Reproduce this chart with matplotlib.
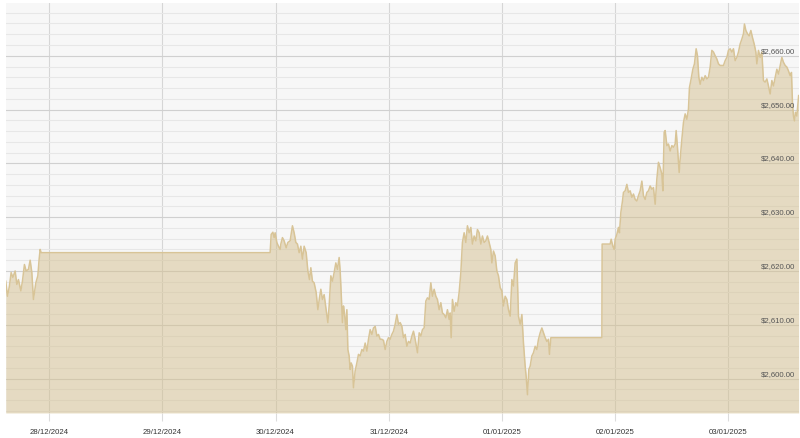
import pandas as pd
import numpy as np
import matplotlib
matplotlib.use("Agg")
import matplotlib.pyplot as plt
import matplotlib.dates as mdates
from matplotlib.ticker import MultipleLocator

# gold spot price, hours counted from 28/12/2024 00:00
hours = [-9.2, -8.84, -8.42, -8.06, -7.70, -7.21, -6.85, -6.51, -6.00, -5.66,
         -5.24, -4.88, -4.39, -4.03, -3.67, -3.33, -2.82, -2.40, -2.12, -1.91,
         -1.70, 46.85,
         47.07, 47.43, 47.70, 47.91, 48.27, 48.61, 48.97, 49.12, 49.46, 49.82,
         50.25, 50.61, 51.09, 51.58, 51.94, 52.30, 52.64, 53.00, 53.36, 53.70,
         54.06, 54.49, 54.85, 55.19, 55.48, 55.82, 56.18, 56.61, 56.97, 57.31,
         57.60, 57.94, 58.30, 58.66, 59.09, 59.36, 59.72, 60.06, 60.42, 60.78,
         61.12, 61.48, 61.70, 61.91, 62.18, 62.40, 62.61, 62.90, 63.12, 63.33,
         63.60, 63.82, 64.03, 64.30, 64.52, 64.87, 65.24, 65.58, 65.94, 66.30,
         66.64, 67.00, 67.36, 67.70, 68.06, 68.42, 68.76, 69.12, 69.48, 69.82,
         70.18, 70.54, 70.88, 71.24, 71.60, 71.94, 72.30, 72.66, 73.00, 73.36,
         73.72, 74.06, 74.42, 74.78, 75.12, 75.48, 75.84, 76.18, 76.54, 76.90,
         77.24, 77.60, 78.09, 78.45, 78.81, 79.15, 79.50, 79.86, 80.20, 80.56,
         80.92, 81.26, 81.62, 81.98, 82.32, 82.68, 83.04, 83.38, 83.74, 84.10,
         84.44, 84.80, 85.02, 85.23, 85.50, 85.86, 86.22, 86.56, 86.92, 87.28,
         87.62, 87.98, 88.34, 88.68, 89.04, 89.40, 89.74, 90.10, 90.46, 90.80,
         91.16, 91.52, 91.86, 92.22, 92.58, 92.92, 93.28, 93.64, 93.86, 94.20,
         94.56, 94.92, 95.26, 95.62, 95.98, 96.32, 96.68, 97.04, 97.38, 97.74,
         98.10, 98.44, 98.80, 99.16, 99.50, 99.86, 100.22, 100.56, 100.92, 101.13,
         101.41, 101.70, 101.98, 102.34, 102.68, 103.04, 103.40, 103.74, 104.10, 104.46,
         104.80, 105.16, 105.52, 105.86, 106.07, 106.37, 117.18,
         117.24, 118.94, 119.15, 119.51, 119.79, 120.00, 120.36, 120.70, 120.91, 121.21,
         121.55, 121.76, 122.12, 122.48, 122.82, 123.18, 123.54, 123.88, 124.24, 124.60,
         124.94, 125.30, 125.66, 126.00, 126.36, 126.72, 127.06, 127.42, 127.78, 128.12,
         128.48, 128.84, 129.18, 129.54, 129.90, 130.11, 130.39, 130.60, 130.96, 131.30,
         131.66, 132.02, 132.36, 132.72, 132.93, 133.21, 133.57, 133.78, 134.14, 134.48,
         134.84, 135.20, 135.54, 135.75, 136.11, 136.47, 136.81, 137.17, 137.45, 137.74,
         138.02, 138.38, 138.72, 139.08, 139.44, 139.78, 140.14, 140.50, 140.84, 141.20,
         141.56, 141.90, 142.26, 142.62, 142.96, 143.32, 143.68, 144.02, 144.38, 144.74,
         145.08, 145.44, 145.80, 146.14, 146.50, 146.86, 147.20, 147.41, 147.71, 148.05,
         148.41, 148.77, 149.11, 149.47, 149.83, 150.04, 150.38, 150.74, 151.10, 151.44,
         151.80, 152.16, 152.50, 152.86, 153.22, 153.56, 153.92, 154.28, 154.62, 154.98,
         155.34, 155.68, 156.04, 156.40, 156.74, 157.10, 157.38, 157.59, 157.80, 158.01,
         158.22, 158.52, 158.90]

price = [2618.1, 2615.3, 2617.2, 2619.7, 2618.8, 2620.0, 2617.5, 2618.4, 2616.3, 2618.1,
         2621.2, 2620.0, 2620.3, 2622.0, 2619.7, 2614.7, 2617.8, 2619.1, 2622.2, 2624.0,
         2623.4, 2623.4,
         2626.8, 2627.2, 2626.2, 2627.1, 2625.3, 2624.6, 2624.0, 2625.0, 2626.2, 2625.6,
         2624.3, 2625.3, 2625.6, 2628.4, 2627.1, 2625.3, 2625.0, 2623.4, 2624.6, 2622.2,
         2624.6, 2623.4, 2620.0, 2618.4, 2620.6, 2618.1, 2617.8, 2616.0, 2612.8, 2615.0,
         2616.6, 2614.7, 2615.6, 2613.2, 2610.4, 2613.5, 2619.1, 2618.1, 2619.7, 2621.5,
         2620.3, 2622.5, 2620.0, 2616.0, 2610.4, 2613.5, 2612.2, 2609.1, 2612.8, 2605.4,
         2604.2, 2601.7, 2602.9, 2602.3, 2598.3, 2601.4, 2602.9, 2604.5, 2604.2, 2605.4,
         2605.1, 2606.6, 2605.1, 2607.3, 2609.1, 2608.2, 2609.4, 2609.7, 2607.9, 2608.2,
         2607.3, 2607.3, 2607.1, 2605.4, 2606.9, 2607.6, 2607.3, 2608.2, 2608.8, 2610.1,
         2611.9, 2610.1, 2610.4, 2609.7, 2607.6, 2608.2, 2606.0, 2606.9, 2606.6, 2607.9,
         2608.8, 2607.3, 2604.8, 2608.5, 2607.9, 2609.1, 2609.4, 2614.4, 2615.0, 2614.7,
         2617.8, 2615.3, 2616.6, 2615.3, 2614.7, 2612.8, 2614.1, 2612.2, 2611.9, 2611.3,
         2612.8, 2611.0, 2612.2, 2607.6, 2614.7, 2612.5, 2614.1, 2613.5, 2616.0, 2619.7,
         2625.3, 2627.1, 2625.3, 2628.4, 2627.1, 2628.1, 2625.0, 2626.5, 2625.6, 2627.7,
         2627.1, 2625.0, 2626.5, 2625.3, 2625.6, 2626.5, 2625.3, 2624.0, 2621.5, 2623.7,
         2622.8, 2620.0, 2619.1, 2616.9, 2616.3, 2613.5, 2615.3, 2614.7, 2612.8, 2611.6,
         2618.4, 2617.2, 2621.5, 2622.2, 2611.6, 2610.1, 2611.9, 2606.6, 2602.3, 2600.4,
         2597.0, 2601.7, 2602.3, 2604.2, 2604.8, 2606.0, 2605.4, 2607.3, 2608.5, 2609.4,
         2608.5, 2607.6, 2606.9, 2607.3, 2604.5, 2607.6, 2607.6,
         2625.0, 2625.0, 2625.9, 2624.6, 2624.0, 2625.9, 2626.8, 2628.1, 2627.1, 2630.9,
         2633.0, 2634.6, 2634.9, 2636.1, 2634.6, 2634.9, 2633.7, 2634.3, 2633.3, 2633.0,
         2634.0, 2634.9, 2636.7, 2634.0, 2633.3, 2634.6, 2634.9, 2635.8, 2635.2, 2635.5,
         2632.4, 2637.1, 2640.2, 2639.2, 2638.0, 2634.9, 2645.8, 2646.1, 2643.3, 2643.6,
         2642.3, 2643.3, 2643.0, 2643.6, 2646.1, 2643.0, 2638.3, 2640.8, 2644.5, 2647.6,
         2649.2, 2648.2, 2650.1, 2654.1, 2655.7, 2657.5, 2658.5, 2661.3, 2660.0, 2656.0,
         2654.7, 2656.0, 2655.4, 2656.3, 2655.7, 2656.0, 2657.9, 2661.0, 2660.7, 2660.0,
         2659.4, 2658.5, 2658.2, 2658.2, 2658.2, 2659.1, 2659.7, 2661.0, 2661.3, 2660.7,
         2661.3, 2659.1, 2659.7, 2660.7, 2662.2, 2663.1, 2664.1, 2665.9, 2664.7, 2664.1,
         2663.7, 2664.7, 2663.4, 2662.2, 2660.7, 2658.5, 2661.0, 2659.7, 2660.7, 2655.4,
         2655.1, 2655.7, 2654.4, 2652.9, 2655.4, 2654.4, 2656.0, 2657.5, 2656.6, 2658.2,
         2659.7, 2658.8, 2658.2, 2657.9, 2657.2, 2656.3, 2656.9, 2651.3, 2648.8, 2647.9,
         2649.5, 2648.8, 2652.6]

day_ticks = pd.date_range("2024-12-28", "2025-01-03", freq="D")
y_major = [2600, 2610, 2620, 2630, 2640, 2650, 2660]

base = pd.Timestamp("2024-12-28")
times = base + pd.to_timedelta(hours, unit="h")
y_bottom, y_top = 2593.6, 2669.9

fig = plt.figure(figsize=(8, 4.39), dpi=100)
ax = fig.add_axes([0.0069, 0.057, 0.992, 0.935])
ax.set_facecolor("#f7f7f7")
for s in ax.spines.values():
    s.set_visible(False)

ax.set_xlim(base + pd.Timedelta(hours=-9.25), base + pd.Timedelta(hours=159.0))
ax.set_ylim(y_bottom, y_top)

ax.set_xticks(day_ticks)
ax.xaxis.set_major_formatter(mdates.DateFormatter("%d/%m/%Y"))
ax.set_yticks(y_major)
ax.yaxis.set_minor_locator(MultipleLocator(2))
ax.set_yticklabels([])
ax.tick_params(axis="y", which="both", length=0)
ax.tick_params(axis="x", length=6, width=0.8, color="#dcdcdc", pad=5,
               labelsize=5.6, labelcolor="#333333")
for lab in ax.get_xticklabels():
    lab.set_fontfamily("Liberation Sans")

ax.set_axisbelow(True)
ax.grid(axis="y", which="minor", color="#e7e7e7", lw=0.75)
ax.grid(axis="y", which="major", color="#d0d0d0", lw=0.8)
ax.grid(axis="x", which="major", color="#d6d6d6", lw=0.8)

ax.fill_between(times, price, y_bottom, color="#d4bf8e", alpha=0.5, lw=0, zorder=2)
ax.plot(times, price, color="#d8c497", lw=1.1, zorder=3)

for v in y_major:
    ax.text(0.9955, v + 0.35, f"${v:,.2f}", transform=ax.get_yaxis_transform(),
            ha="right", va="bottom", fontsize=5.6, color="#555555",
            family="Liberation Sans", zorder=4)

fig.savefig("out.png", dpi=100)
